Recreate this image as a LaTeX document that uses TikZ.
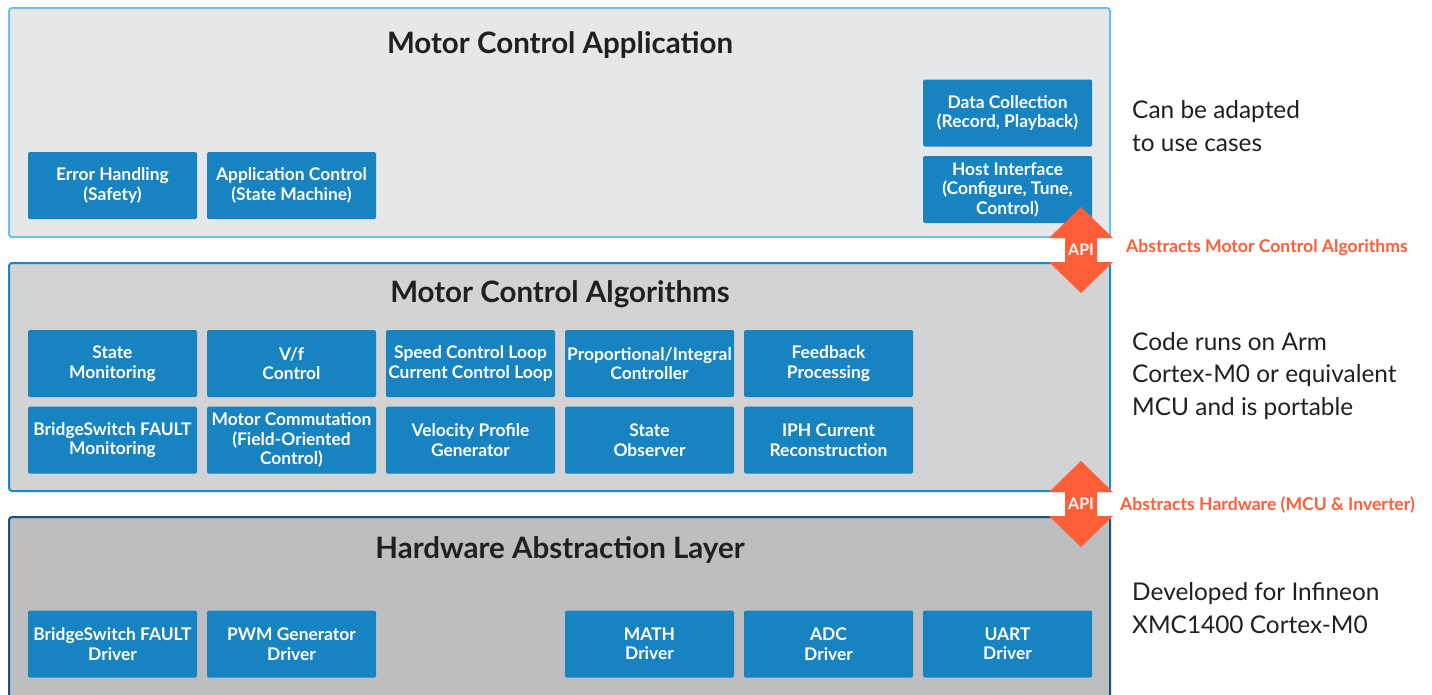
\documentclass[tikz,border=0pt]{standalone}
\usepackage{fontspec}
\setmainfont{Lato}
\usepackage{tikz}

\definecolor{boxblue}{RGB}{24,131,193}
\definecolor{apporange}{RGB}{255,94,56}
\definecolor{txtdark}{RGB}{35,31,32}
\definecolor{fillone}{RGB}{230,231,233}
\definecolor{filltwo}{RGB}{209,211,212}
\definecolor{fillthree}{RGB}{188,190,192}
\definecolor{lineone}{RGB}{110,193,228}
\definecolor{linetwo}{RGB}{20,138,203}
\definecolor{linethree}{RGB}{25,80,125}

\begin{document}
\begin{tikzpicture}[x=1pt,y=-1pt,
  layer/.style={line width=2pt,rounded corners=3pt},
  block/.style={fill=boxblue,text=white,rounded corners=1.5pt,minimum width=169pt,minimum height=67pt,
    inner sep=0pt,align=center,font=\fontsize{17.4}{19.5}\selectfont\bfseries},
  title/.style={text=txtdark,font=\fontsize{29.5}{32}\selectfont\bfseries},
  note/.style={text=txtdark,anchor=west,align=left,inner sep=0pt,font=\fontsize{24.4}{32.5}\selectfont},
  apitxt/.style={text=white,font=\fontsize{16}{18}\selectfont\bfseries},
  apinote/.style={text=apporange,anchor=west,inner sep=0pt,font=\fontsize{17.6}{20}\selectfont\bfseries}]
\clip (0,0) rectangle (1432,694);
\fill[white] (0,0) rectangle (1432,694);

%Shape: Layers
\draw[layer,fill=fillone,draw=lineone] (9,8) rectangle (1110,237);
\draw[layer,fill=filltwo,draw=linetwo] (9,263) rectangle (1110,491);
\draw[layer,fill=fillthree,draw=linethree] (9,517) rectangle (1110,720);

% Titles
\node[title] (app) at (560,45) {Motor Control Application};
\node[title] (alg) at (560,294) {Motor Control Algorithms};
\node[title] (hal) at (560,550) {Hardware Abstraction Layer};

% Application blocks
\node[block] (err) at (112.5,185.5) {Error Handling\\(Safety)};
\node[block] (ctl) at (291.5,185.5) {Application Control\\(State Machine)};
\node[block] (data) at (1007.5,113) {Data Collection\\(Record, Playback)};
\node[block] (host) at (1007.5,189.5) {Host Interface\\(Configure, Tune,\\Control)};

% Algorithm blocks
\node[block] (stmon) at (112.5,363.5) {State\\Monitoring};
\node[block] (vf) at (291.5,363.5) {V/f\\Control};
\node[block] (loop) at (470.5,363.5) {Speed Control Loop\\Current Control Loop};
\node[block] (pi) at (649.5,363.5) {Proportional/Integral\\Controller};
\node[block] (fb) at (828.5,363.5) {Feedback\\Processing};
\node[block] (bsmon) at (112.5,440) {BridgeSwitch FAULT\\Monitoring};
\node[block] (foc) at (291.5,440) {Motor Commutation\\(Field-Oriented\\Control)};
\node[block] (vel) at (470.5,440) {Velocity Profile\\Generator};
\node[block] (obs) at (649.5,440) {State\\Observer};
\node[block] (iph) at (828.5,440) {IPH Current\\Reconstruction};

% Hardware blocks
\node[block] (bsdrv) at (112.5,644) {BridgeSwitch FAULT\\Driver};
\node[block] (pwm) at (291.5,644) {PWM Generator\\Driver};
\node[block] (math) at (649.5,644) {MATH\\Driver};
\node[block] (adc) at (828.5,644) {ADC\\Driver};
\node[block] (uart) at (1007.5,644) {UART\\Driver};

%Shape: API arrows
\fill[apporange] (1081,207) -- (1113,238) -- (1097,238) -- (1097,262) -- (1113,262) -- (1081,293)
  -- (1049,262) -- (1065,262) -- (1065,238) -- (1049,238) -- cycle;
\fill[apporange] (1081,461) -- (1113,492) -- (1097,492) -- (1097,516) -- (1113,516) -- (1081,547)
  -- (1049,516) -- (1065,516) -- (1065,492) -- (1049,492) -- cycle;
\node[apitxt] (apione) at (1081,250) {API};
\node[apitxt] (apitwo) at (1081,504) {API};
\node[apinote] (absalg) at (1126,248) {Abstracts Motor Control Algorithms};
\node[apinote] (abshw) at (1120,505) {Abstracts Hardware (MCU \& Inverter)};

% Text Node
\node[note] (adapt) at (1132,126) {Can be adapted\\to use cases};
\node[note] (runs) at (1132,376) {Code runs on Arm\\Cortex-M0 or equivalent\\MCU and is portable};
\node[note] (dev) at (1132,608) {Developed for Infineon\\XMC1400 Cortex-M0};

\end{tikzpicture}
\end{document}
